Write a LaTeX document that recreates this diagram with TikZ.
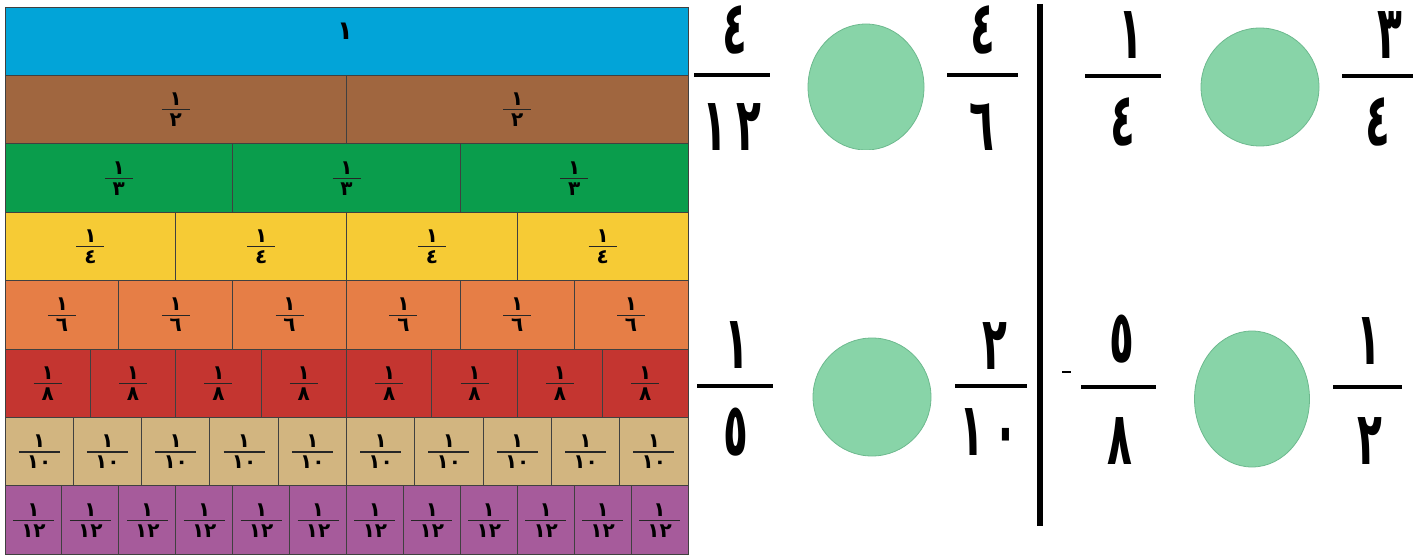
\documentclass[tikz,border=0pt]{standalone}
\usepackage{fontspec}
\usetikzlibrary{positioning,shapes.geometric}
\newfontfamily\arabicfont[Script=Arabic]{DejaVu Sans}
\definecolor{wblue}{HTML}{02A4D8}
\definecolor{wbrown}{HTML}{A0663F}
\definecolor{wgreen}{HTML}{0A9D4C}
\definecolor{wyellow}{HTML}{F6CB35}
\definecolor{worange}{HTML}{E67E46}
\definecolor{wred}{HTML}{C43530}
\definecolor{wtan}{HTML}{D2B580}
\definecolor{wpurple}{HTML}{A65B9B}
\definecolor{blankfill}{HTML}{88D4A8}
\definecolor{blankline}{HTML}{6DB98E}
\newcommand\bd[1]{\scalebox{0.55}[1]{#1}}
\tikzset{
  cell/.style={draw=black!75, line width=0.9pt},
  wdig/.style={inner sep=0pt, font=\arabicfont\bfseries\fontsize{20}{20}\selectfont},
  wbar/.style={line width=1.2pt, black!85},
  bigdig/.style={inner sep=0pt, font=\arabicfont\bfseries\fontsize{74}{74}\selectfont},
  bigbar/.style={line width=4.5pt},
  blank/.style={ellipse, draw=blankline, fill=blankfill, line width=0.8pt, inner sep=0pt}
}

\begin{document}
\begin{tikzpicture}[x=1pt, y=-1pt]
\useasboundingbox (0,0) rectangle (1424,556);
% Fraction wall
\foreach \n/\d/\col [count=\r] in {1/١/wblue, 2/٢/wbrown, 3/٣/wgreen, 4/٤/wyellow, 6/٦/worange, 8/٨/wred, 10/١٠/wtan, 12/١٢/wpurple} {
    \pgfmathsetmacro\rowtop{7+(\r-1)*68.4}
    \pgfmathsetmacro\cw{683/\n}
    \pgfmathsetmacro\hb{\n>8 ? 20.5 : 14}
    \foreach \i in {1,...,\n} {
        \draw[cell, fill=\col] ({5+(\i-1)*\cw},\rowtop) rectangle ++(\cw,68.4);
        \ifnum\n>1
            \coordinate (b-\r-\i) at ({5+(\i-0.5)*\cw},{\rowtop+34.5});
            \node[wdig, above=4pt of b-\r-\i] (n-\r-\i) {١};
            \node[wdig, below=4pt of b-\r-\i] (d-\r-\i) {\d};
            \draw[wbar] ([xshift=-\hb pt]b-\r-\i) -- ([xshift=\hb pt]b-\r-\i);
        \fi
    }
}
\node[wdig, font=\arabicfont\bfseries\fontsize{26}{26}\selectfont] (whole) at (345,31) {١};
% Compare 4/12 and 4/6
\begin{scope}
    \clip (688,0) rectangle (1030,150);
    \node[bigdig] (a-num) at (735,30) {\bd{٤}};
    \node[bigdig] (a-den) at (732,127) {\bd{١\kern18pt٢}};
    \draw[bigbar] (694,75) -- (770,75);
    \node[blank, minimum width=116, minimum height=126] (a-cmp) at (866,87) {};
    \node[bigdig] (b-num) at (983,30) {\bd{٤}};
    \node[bigdig] (b-den) at (982,127) {\bd{٦}};
    \draw[bigbar] (947,75) -- (1018,75);
\end{scope}
% Compare 1/4 and 3/4
    \node[bigdig] (c-num) at (1131,35) {\bd{١}};
    \node[bigdig] (c-den) at (1123,122) {\bd{٤}};
    \draw[bigbar] (1085,76) -- (1161,76);
    \node[blank, minimum width=118, minimum height=118] (c-cmp) at (1260,87) {};
    \node[bigdig] (d-num) at (1390,35) {\bd{٣}};
    \node[bigdig] (d-den) at (1378,122) {\bd{٤}};
    \draw[bigbar] (1342,76) -- (1413,76);
% Compare 1/5 and 2/10
    \node[bigdig] (e-num) at (737,345) {\bd{١}};
    \node[bigdig] (e-den) at (736,432) {\bd{٥}};
    \draw[bigbar] (697,386) -- (773,386);
    \node[blank, minimum width=118, minimum height=118] (e-cmp) at (872,397) {};
    \node[bigdig] (f-num) at (995,346) {\bd{٢}};
    \node[bigdig] (f-den) at (989,432) {\bd{١\kern18pt٠}};
    \draw[bigbar] (955,386) -- (1027,386);
% Compare 5/8 and 1/2
\begin{scope}
    \clip (1050,300) rectangle (1424,468);
    \draw[line width=1.5pt] (1062,372) -- (1071,372);
    \node[bigdig] (g-num) at (1122,339) {\bd{٥}};
    \node[bigdig] (g-den) at (1120,441) {\bd{٨}};
    \draw[bigbar] (1081,387) -- (1156,387);
    \node[blank, minimum width=115, minimum height=136] (g-cmp) at (1252,399) {};
    \node[bigdig] (h-num) at (1369,341) {\bd{١}};
    \node[bigdig] (h-den) at (1370,441) {\bd{٢}};
    \draw[bigbar] (1333,387) -- (1402,387);
\end{scope}
% Divider
\draw[line width=6pt] (1040,4) -- (1040,526);
\end{tikzpicture}
\end{document}
